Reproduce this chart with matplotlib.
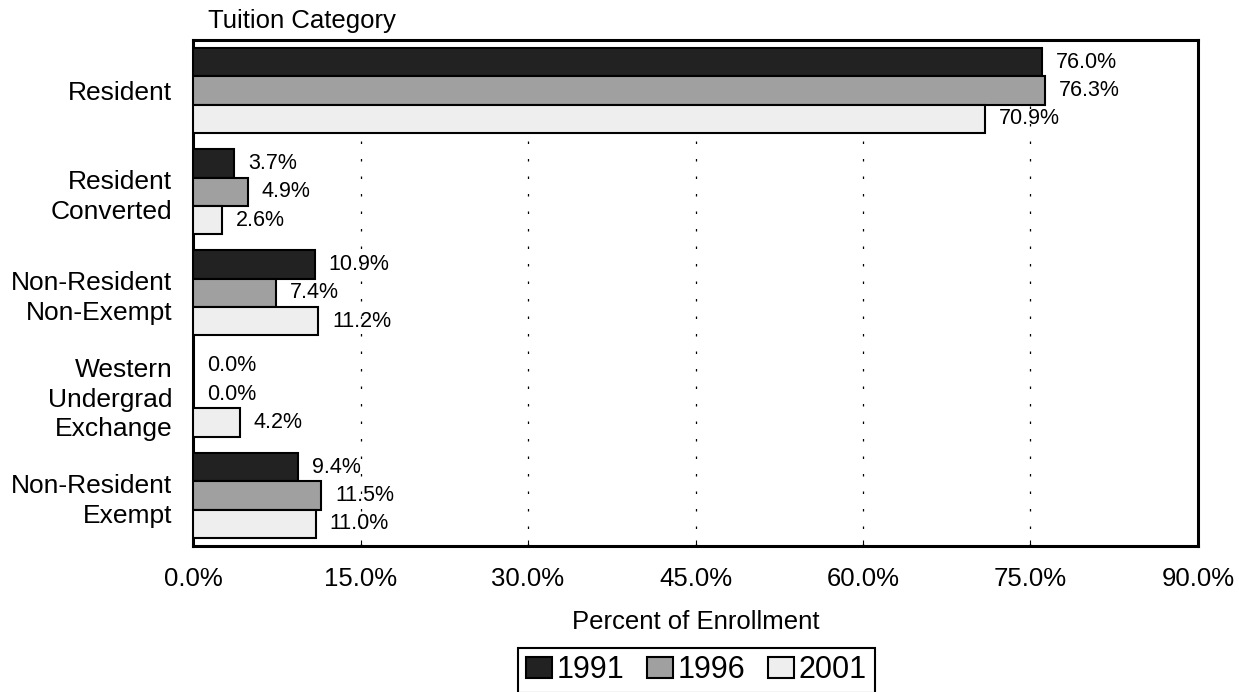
import numpy as np
import matplotlib
matplotlib.use('Agg')
import matplotlib.pyplot as plt

plt.rcParams['font.family'] = ['Liberation Sans', 'DejaVu Sans']

categories = ['Resident', 'Resident\nConverted', 'Non-Resident\nNon-Exempt',
              'Western\nUndergrad\nExchange', 'Non-Resident\nExempt']
years = ['1991', '1996', '2001']
v1991 = [76.0, 3.7, 10.9, 0.0, 9.4]
v1996 = [76.3, 4.9, 7.4, 0.0, 11.5]
v2001 = [70.9, 2.6, 11.2, 4.2, 11.0]
colors = ['#222222', '#a0a0a0', '#eeeeee']
xticks = [0, 15, 30, 45, 60, 75, 90]

fig = plt.figure(figsize=(12.39, 6.92), dpi=100)
ax = fig.add_axes([0.1558, 0.211, 0.8111, 0.7312])

y = np.arange(len(categories))
h = 0.28
series = [v1991, v1996, v2001]
for i, (vals, c, yr) in enumerate(zip(series, colors, years)):
    pos = y + (i - 1) * h
    ax.barh(pos, vals, height=h, color=c, edgecolor='black', linewidth=1.5, label=yr, zorder=3)
    for p, v in zip(pos, vals):
        ax.annotate(f'{v:.1f}%', (v, p), xytext=(10, 0), textcoords='offset points',
                    va='center', ha='left', fontsize=15.5, zorder=4)

for xv in xticks[1:-1]:
    ax.axvline(xv, color='black', linewidth=0.9, linestyle=(0, (2, 12)), zorder=1)

ax.set_xlim(0, 90)
ax.set_ylim(len(categories) - 0.5, -0.5)
ax.set_yticks(y)
ax.set_yticklabels(categories, fontsize=19, ha='right', multialignment='right', linespacing=1.3)
ax.tick_params(axis='y', length=0, pad=15)
ax.set_xticks(xticks)
ax.set_xticklabels([f'{t:.1f}%' for t in xticks], fontsize=18.5)
ax.tick_params(axis='x', direction='in', length=4, width=0.8, pad=15)
ax.set_xlabel('Percent of Enrollment', fontsize=18.5, labelpad=14)
for s in ax.spines.values():
    s.set_linewidth(2.2)

fig.text(0.168, 0.97, 'Tuition Category', fontsize=18.5, ha='left', va='center')

leg = fig.legend(loc='upper center', bbox_to_anchor=(0.562, 0.064), ncol=3, fontsize=22,
                 frameon=True, fancybox=False, edgecolor='black', framealpha=1,
                 handlelength=0.85, handleheight=0.65, handletextpad=0.15,
                 columnspacing=0.75, borderpad=0.25, borderaxespad=0)
leg.get_frame().set_linewidth(1.5)

fig.savefig('out.png', dpi=100)
